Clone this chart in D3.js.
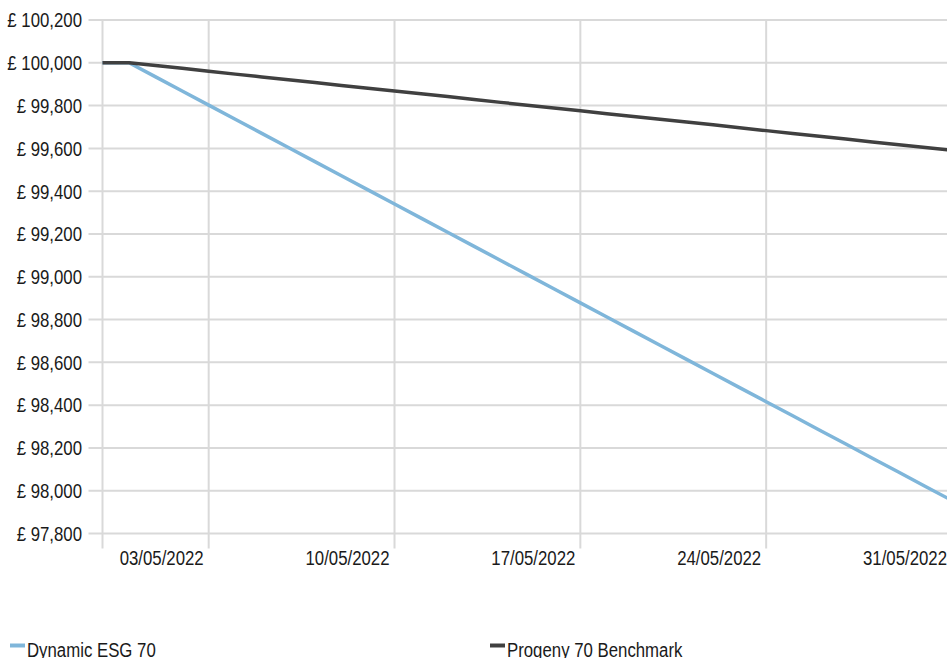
<!DOCTYPE html>
<meta charset="utf-8">
<head>
  <script src="https://d3js.org/d3.v7.min.js"></script>
</head>
<style>

body {
  margin: 0;
  background: white;
}

text {
  font-family: "Liberation Sans", Arial, sans-serif;
  font-size: 21px;
  fill: #1a1a1a;
}

.grid line {
  stroke: #d9d9d9;
  stroke-width: 2px;
}

.series {
  fill: none;
  stroke-width: 3.5px;
  stroke-linejoin: round;
}

</style>

<body>
<svg width="947" height="658" id="container"></svg>
<script>

// one point per day, 29/04/2022 .. 31/05/2022
var dates = [
  "2022-04-29", "2022-04-30", "2022-05-01", "2022-05-02", "2022-05-03",
  "2022-05-04", "2022-05-05", "2022-05-06", "2022-05-07", "2022-05-08",
  "2022-05-09", "2022-05-10", "2022-05-11", "2022-05-12", "2022-05-13",
  "2022-05-14", "2022-05-15", "2022-05-16", "2022-05-17", "2022-05-18",
  "2022-05-19", "2022-05-20", "2022-05-21", "2022-05-22", "2022-05-23",
  "2022-05-24", "2022-05-25", "2022-05-26", "2022-05-27", "2022-05-28",
  "2022-05-29", "2022-05-30", "2022-05-31"
];

var dynamicEsg70 = [
  100000, 100000, 99934, 99868, 99802, 99736, 99670, 99604, 99538, 99472,
  99406, 99340, 99274, 99208, 99142, 99076, 99010, 98944, 98878, 98812,
  98746, 98680, 98614, 98548, 98482, 98416, 98350, 98284, 98218, 98152,
  98086, 98020, 97954
];

var progeny70Benchmark = [
  100000, 100000, 99987, 99974, 99960, 99947, 99934, 99921, 99908, 99894,
  99881, 99868, 99855, 99842, 99828, 99815, 99802, 99789, 99776, 99762,
  99749, 99736, 99723, 99710, 99696, 99683, 99670, 99657, 99644, 99630,
  99617, 99604, 99591
];

var seriesNames = ["Dynamic ESG 70", "Progeny 70 Benchmark"];
var seriesColors = ["#7fb6da", "#404040"];

var xTickDates = ["2022-05-03", "2022-05-10", "2022-05-17", "2022-05-24", "2022-05-31"];
var yTicks = [97800, 98000, 98200, 98400, 98600, 98800, 99000, 99200, 99400, 99600, 99800, 100000, 100200];

var svg = d3.select('#container');

var parseDate = d3.timeParse("%Y-%m-%d"),
    formatDate = d3.timeFormat("%d/%m/%Y"),
    formatMoney = d3.format(",");

// no narrow font installed, so squeeze a regular one horizontally
var narrow = 0.8;

var plot = {left: 102.5, right: 952, top: 20, bottom: 533.5};

var xScale = d3.scaleTime()
  .domain([parseDate(dates[0]), parseDate(dates[dates.length - 1])])
  .range([plot.left, plot.right]);

var yScale = d3.scaleLinear()
  .domain([97800, 100200])
  .range([plot.bottom, plot.top]);

function placeText(sel, x, y) {
  sel.attr('transform', function(d, i) {
    var px = typeof x === 'function' ? x(d, i) : x,
        py = typeof y === 'function' ? y(d, i) : y;
    return 'translate(' + px + ',' + py + ') scale(' + narrow + ',1)';
  });
}

// horizontal gridlines (with the little stub left of the plot)
svg.append('g')
   .attr('class', 'grid')
   .selectAll('line')
   .data(yTicks)
   .enter().append('line')
   .attr('x1', plot.left - 14)
   .attr('x2', plot.right)
   .attr('y1', function(d) { return yScale(d); })
   .attr('y2', function(d) { return yScale(d); });

// vertical gridlines: left edge plus weekly ticks, running down as tick marks
var vLines = [parseDate(dates[0])].concat(xTickDates.map(parseDate));
svg.append('g')
   .attr('class', 'grid')
   .selectAll('line')
   .data(vLines)
   .enter().append('line')
   .attr('x1', function(d) { return xScale(d); })
   .attr('x2', function(d) { return xScale(d); })
   .attr('y1', plot.top)
   .attr('y2', plot.bottom + 15);

// y labels
svg.append('g')
   .selectAll('text')
   .data(yTicks)
   .enter().append('text')
   .call(placeText, 82, function(d) { return yScale(d); })
   .attr('dy', '0.35em')
   .attr('text-anchor', 'end')
   .text(function(d) { return '£ ' + formatMoney(d); });

// x labels sit to the left of their tick
svg.append('g')
   .selectAll('text')
   .data(xTickDates)
   .enter().append('text')
   .call(placeText, function(d) { return xScale(parseDate(d)) - 5; }, 565)
   .attr('text-anchor', 'end')
   .text(function(d) { return formatDate(parseDate(d)); });

// lines
var line = d3.line()
  .x(function(d) { return xScale(d.date); })
  .y(function(d) { return yScale(d.value); });

[dynamicEsg70, progeny70Benchmark].forEach(function(values, i) {
  var pts = values.map(function(v, j) { return {date: parseDate(dates[j]), value: v}; });
  svg.append('path')
     .datum(pts)
     .attr('class', 'series')
     .attr('stroke', seriesColors[i])
     .attr('d', line);
});

// legend
var legendX = [10, 490];
seriesNames.forEach(function(name, i) {
  var g = svg.append('g').attr('transform', 'translate(' + legendX[i] + ',645.5)');
  g.append('line')
   .attr('x1', 0).attr('x2', 15)
   .attr('stroke', seriesColors[i])
   .attr('stroke-width', 4);
  g.append('text')
   .call(placeText, 17, 11)
   .text(name);
});

</script>
</body>
